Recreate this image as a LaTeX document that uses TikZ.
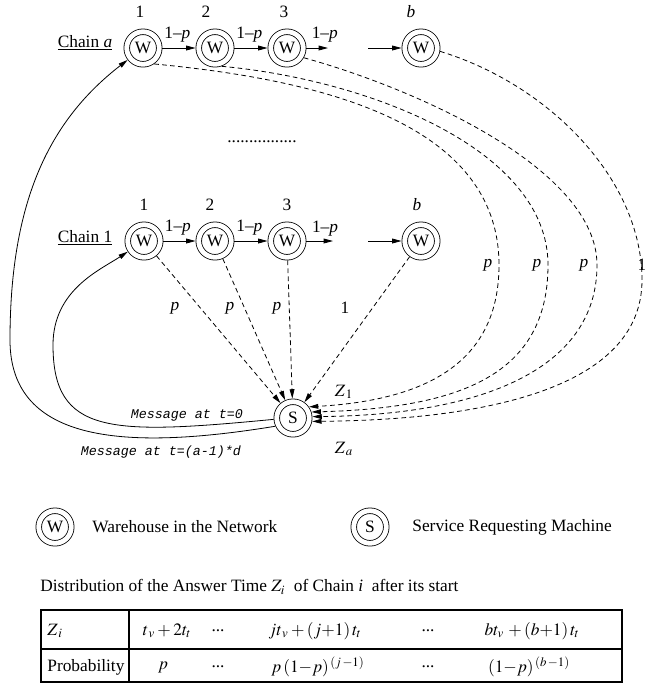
\documentclass[tikz,border=0pt]{standalone}
\usepackage{mathptmx}
\usepackage[no-math]{fontspec}
\setmainfont{Liberation Serif}
\setmonofont{Liberation Mono}
\usetikzlibrary{arrows.meta}
\def\msg#1{{\fontsize{10}{12}\selectfont\ttfamily\itshape #1}}

\begin{document}
\begin{tikzpicture}[x=0.75pt,y=-0.75pt,font=\fontsize{13}{15}\selectfont,line width=0.6pt,
		wh/.style={circle,draw,double,double distance=3.6pt,minimum size=24.4pt,inner sep=0pt,outer sep=2.4pt},
		arr/.style={-{Triangle[length=7pt,width=3.6pt]}},
		dsh/.style={arr,dash pattern=on 3.5pt off 2.5pt}]
	\useasboundingbox (0,0) rectangle (645,687);

	\node (cha) at (85,43) {\underline{Chain \textit{a}}};
	\node[wh] (wa1) at (143,48) {W};
	\node[wh] (wa2) at (215,48) {W};
	\node[wh] (wa3) at (287,48) {W};
	\node[wh] (wab) at (421,48) {W};
	\node (na1) at (140,12) {1};
	\node (na2) at (206,12) {2};
	\node (na3) at (284,12) {3};
	\node (nab) at (411,12) {\textit{b}};
	\coordinate (ea3) at (328,48);
	\coordinate (sab) at (368,48);

	\draw[arr] (wa1) -- node[pos=0.45,above=1pt] (la1) {1--\textit{p}} (wa2);
	\draw[arr] (wa2) -- node[pos=0.45,above=1pt] (la2) {1--\textit{p}} (wa3);
	\draw[arr] (wa3) -- node[pos=0.85,above=1pt] (la3) {1--\textit{p}} (ea3);
	\draw[arr] (sab) -- (wab);

	\node (dots) at (262,142) {................};

	\node (ch1) at (85,238) {\underline{Chain 1}};
	\node[wh] (w11) at (144,241) {W};
	\node[wh] (w12) at (215,241) {W};
	\node[wh] (w13) at (287,241) {W};
	\node[wh] (w1b) at (421,241) {W};
	\node (n11) at (144,205) {1};
	\node (n12) at (210,205) {2};
	\node (n13) at (287,205) {3};
	\node (n1b) at (417,205) {\textit{b}};
	\coordinate (e13) at (333,241);
	\coordinate (s1b) at (368,241);

	\draw[arr] (w11) -- node[pos=0.45,above=1pt] (l11) {1--\textit{p}} (w12);
	\draw[arr] (w12) -- node[pos=0.45,above=1pt] (l12) {1--\textit{p}} (w13);
	\draw[arr] (w13) -- node[pos=0.7,above=0pt] (l13) {1--\textit{p}} (e13);
	\draw[arr] (s1b) -- (w1b);

	\node[wh] (s) at (293,418) {S};

	\draw[dsh] (w11) -- (s);
	\draw[dsh] (w12) -- (s);
	\draw[dsh] (w13) -- (s);
	\draw[dsh] (w1b) -- (s);
	\node (p11) at (175,308) {\textit{p}};
	\node (p12) at (230,308) {\textit{p}};
	\node (p13) at (277,308) {\textit{p}};
	\node (p1b) at (345,308) {1};

	\draw[dsh] (wa1.-55) .. controls (300,78) and (499,115) .. (499,265) .. controls (499,360) and (430,400) .. (s.35);
	\draw[dsh] (wa2.-70) .. controls (370,80) and (548,150) .. (548,265) .. controls (548,375) and (460,408) .. (s.18);
	\draw[dsh] (wa3.-30) .. controls (420,90) and (597,170) .. (597,265) .. controls (597,370) and (480,415) .. (s.4);
	\draw[dsh] (wab.-10) .. controls (550,85) and (642,180) .. (642,280) .. controls (642,390) and (480,420) .. (s.-10);
	\node (pa1) at (488,265) {\textit{p}};
	\node (pa2) at (537,265) {\textit{p}};
	\node (pa3) at (584,265) {\textit{p}};
	\node (pab) at (642,265) {1};

	\draw[arr] (s.184) .. controls (110,435) and (53,435) .. (53,345) .. controls (53,290) and (100,270) .. (w11);
	\draw[arr] (s.205) .. controls (130,450) and (10,445) .. (10,340) .. controls (10,200) and (50,120) .. (wa1);
	\node (m0) at (187,415) {\msg{Message at t=0}};
	\node (m1) at (161,452) {\msg{Message at t=(a-1)*d}};
	\node (z1) at (344,392) {$Z_{\,1}$};
	\node (za) at (344,449) {$Z_{\,a}$};

	\node[wh] (lw) at (55,527) {W};
	\node[anchor=west,inner sep=0pt] (lwt) at (92,527) {Warehouse in the Network};
	\node[wh] (ls) at (370,527) {S};
	\node[anchor=west,inner sep=0pt] (lst) at (412,527) {Service Requesting Machine};

	\node[anchor=west,inner sep=0pt] (ttl) at (40,587) {Distribution of the Answer Time $Z_i$\ \ of Chain \textit{i}\ \ after its start};

	\draw[line width=0.8pt] (41,610) rectangle (622,682);
	\draw[line width=0.8pt] (41,649) -- (622,649);
	\draw[line width=0.8pt] (129,610) -- (129,682);

	\node[anchor=west,inner sep=0pt] (zi) at (47,631) {$Z_{\,i}$};
	\node (z2) at (167,631) {$t_{\,v}+2t_t$};
	\node (zd1) at (218,631) {...};
	\node (zj) at (315,631) {$jt_{\,v}+(j{+}1)\,t_t$};
	\node (zd2) at (428,631) {...};
	\node (zb) at (532,631) {$bt_v\,+(b{+}1)\,t_t$};
	\node[anchor=west,inner sep=0pt] (pr) at (47,667) {Probability};
	\node (q2) at (163,667) {$p$};
	\node (qd1) at (218,667) {...};
	\node (qj) at (318,667) {$p\,(1{-}p)^{\,(j\,-1)}$};
	\node (qd2) at (428,667) {...};
	\node (qb) at (529,667) {$(1{-}p)^{\,(b\,-1)}$};
\end{tikzpicture}
\end{document}
